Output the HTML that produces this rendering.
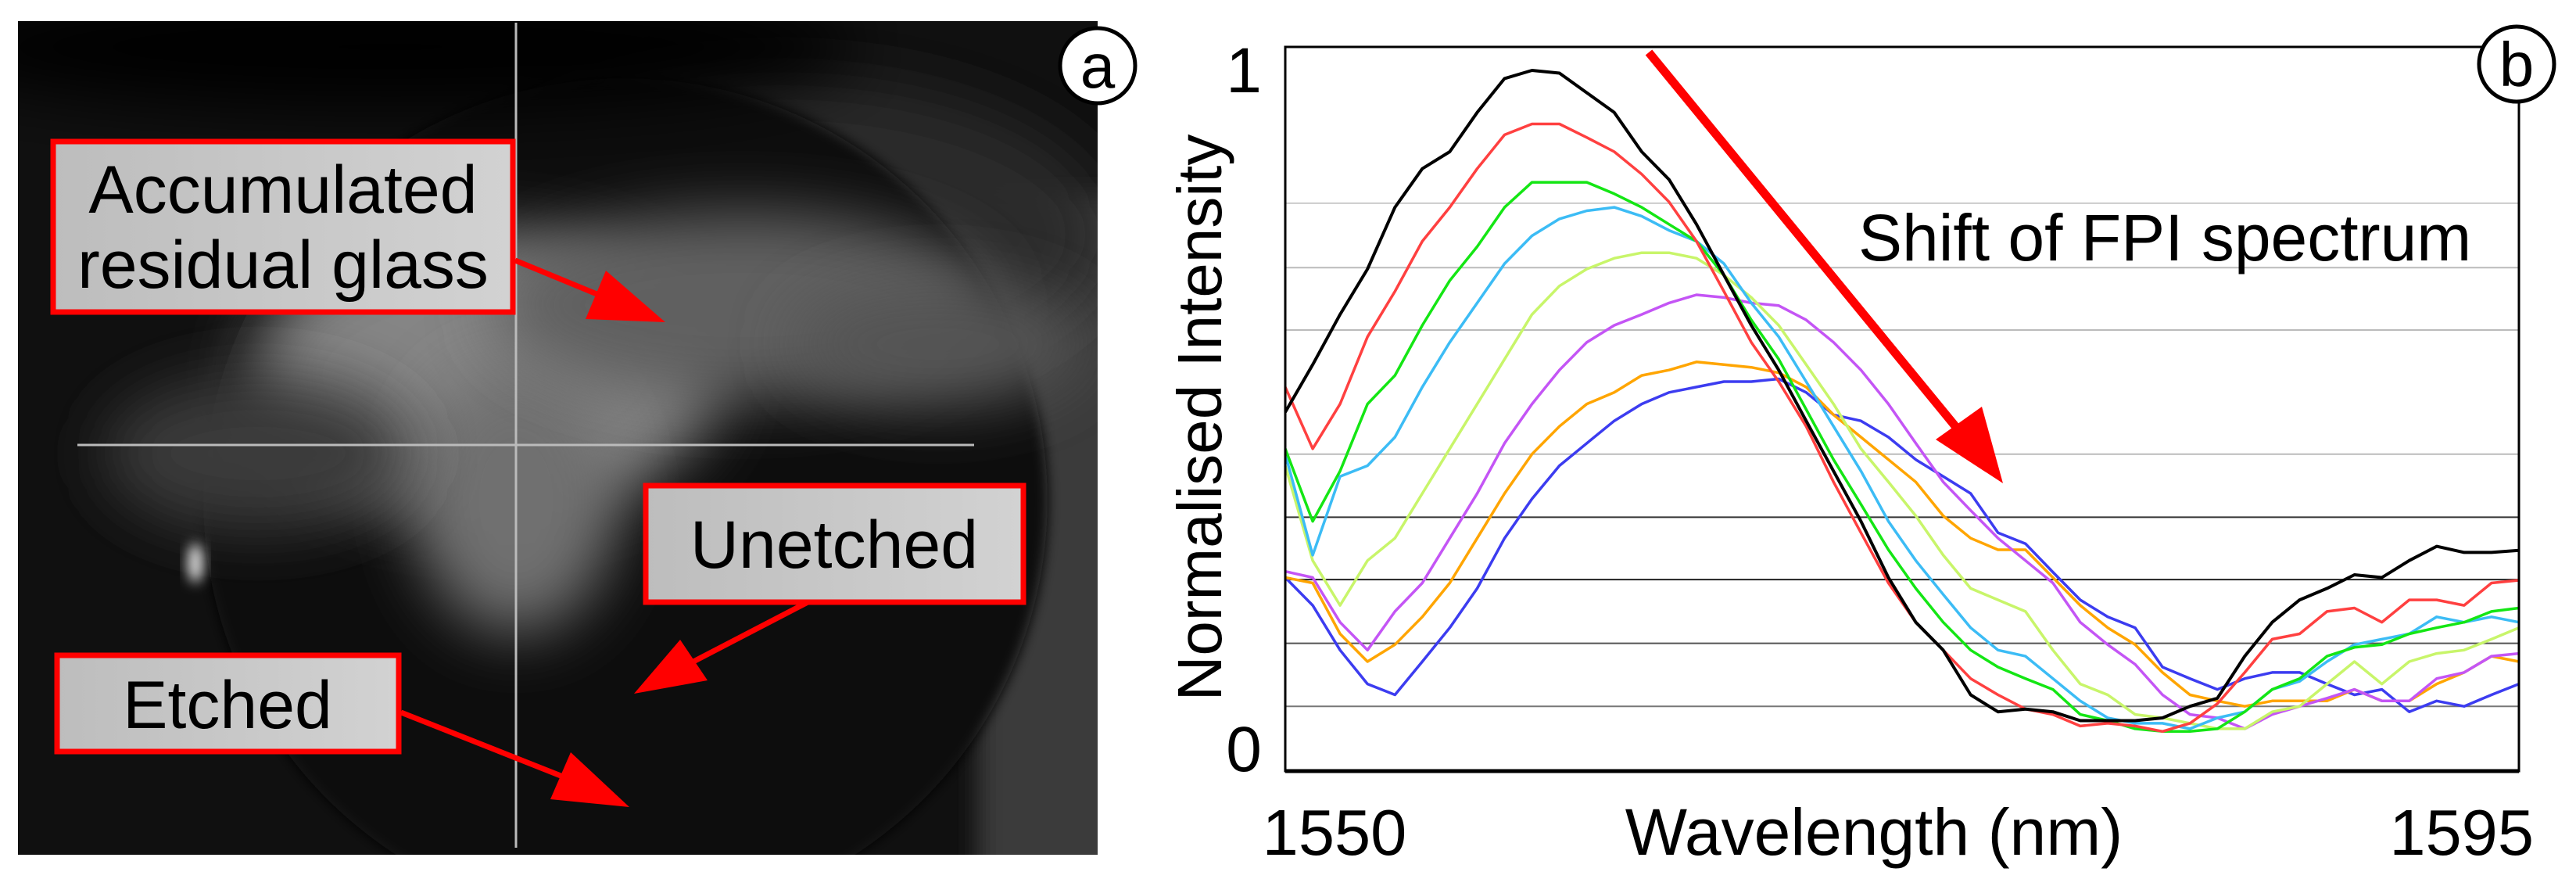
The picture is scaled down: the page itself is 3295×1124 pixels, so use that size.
<!DOCTYPE html>
<html><head><meta charset="utf-8"><style>
html,body{margin:0;padding:0;background:#fff;}
svg{display:block;font-family:"Liberation Sans",Arial,sans-serif;}
</style></head><body>
<svg id="fig" width="3295" height="1124" viewBox="0 0 3295 1124" xmlns="http://www.w3.org/2000/svg">
<defs>
<filter id="blur40" x="-50%" y="-50%" width="200%" height="200%"><feGaussianBlur stdDeviation="40"/></filter>
<filter id="blur15" x="-50%" y="-50%" width="200%" height="200%"><feGaussianBlur stdDeviation="15"/></filter>
<filter id="blur8" x="-50%" y="-50%" width="200%" height="200%"><feGaussianBlur stdDeviation="8"/></filter>
<clipPath id="imgclip"><rect x="23" y="27" width="1381" height="1066"/></clipPath>
<linearGradient id="boxfill" x1="0" y1="0" x2="1" y2="0"><stop offset="0" stop-color="#bdbdbd"/><stop offset="1" stop-color="#d2d2d2"/></linearGradient>
</defs>

<g clip-path="url(#imgclip)">
  <rect x="23" y="27" width="1381" height="1066" fill="#101010"/>
  <rect x="1250" y="250" width="200" height="900" fill="#3a3a3a" filter="url(#blur15)"/>
  <ellipse cx="1000" cy="300" rx="420" ry="200" fill="#2a2a2a" filter="url(#blur40)"/>
  <circle cx="800" cy="640" r="540" fill="#070707" filter="url(#blur8)"/>
  <ellipse cx="500" cy="60" rx="600" ry="80" fill="#040404" filter="url(#blur40)"/>
  <ellipse cx="620" cy="480" rx="300" ry="180" fill="#858585" filter="url(#blur40)"/>
  <ellipse cx="660" cy="640" rx="130" ry="170" fill="#707070" filter="url(#blur40)"/>
  <ellipse cx="950" cy="390" rx="320" ry="120" fill="#606060" filter="url(#blur40)"/>
  <ellipse cx="1200" cy="440" rx="190" ry="80" fill="#555" filter="url(#blur40)"/>
  <ellipse cx="330" cy="580" rx="200" ry="100" fill="#3a3a3a" filter="url(#blur40)"/>
  <ellipse cx="250" cy="720" rx="10" ry="25" fill="#ddd" filter="url(#blur8)"/>
  <line x1="660" y1="29" x2="660" y2="1084" stroke="#bbb" stroke-width="3"/>
  <line x1="99" y1="569" x2="1246" y2="569" stroke="#bbb" stroke-width="3"/>
</g>

<g fill="#f00" stroke="#f00">
  <line x1="659" y1="333" x2="790" y2="387" stroke-width="7"/>
  <polygon points="851,412 749,408 775,346" stroke="none"/>
  <line x1="1041" y1="766" x2="860" y2="860" stroke-width="7"/>
  <polygon points="811,887 870,818 905,870" stroke="none"/>
  <line x1="513" y1="911" x2="750" y2="1005" stroke-width="7"/>
  <polygon points="805,1032 704,1022 730,962" stroke="none"/>
</g>

<g>
  <rect x="68" y="181" width="588" height="218" fill="url(#boxfill)" stroke="#f00" stroke-width="7"/>
  <text x="362" y="272" font-size="86" text-anchor="middle">Accumulated</text>
  <text x="362" y="368" font-size="86" text-anchor="middle">residual glass</text>
</g>
<g>
  <rect x="826" y="621" width="483" height="149" fill="url(#boxfill)" stroke="#f00" stroke-width="7"/>
  <text x="1067" y="726" font-size="86" text-anchor="middle">Unetched</text>
</g>
<g>
  <rect x="73" y="838" width="437" height="123" fill="url(#boxfill)" stroke="#f00" stroke-width="7"/>
  <text x="291" y="931" font-size="86" text-anchor="middle">Etched</text>
</g>
<g>
  <circle cx="1404" cy="84" r="48" fill="#fff" stroke="#000" stroke-width="5"/>
  <text x="1404" y="112" font-size="80" text-anchor="middle">a</text>
</g>

<g id="chart">
  <rect x="1644" y="60" width="1578" height="926" fill="#fff" stroke="#000" stroke-width="3"/>
  <g id="grid"></g>
  <g id="series"></g>
  <rect x="1644" y="60" width="1578" height="926" fill="none" stroke="#000" stroke-width="3"/>
  <line x1="1644" y1="986" x2="3222" y2="986" stroke="#000" stroke-width="5"/>
  <text x="1591" y="118" font-size="82" text-anchor="middle">1</text>
  <text x="1591" y="986" font-size="82" text-anchor="middle">0</text>
  <text x="1707" y="1093" font-size="83" text-anchor="middle">1550</text>
  <text x="3241" y="1093" font-size="83" text-anchor="end">1595</text>
  <text x="2397" y="1093" font-size="84" text-anchor="middle">Wavelength (nm)</text>
  <text transform="translate(1562,534) rotate(-90)" font-size="80" text-anchor="middle">Normalised Intensity</text>
  <text x="2377" y="333" font-size="84">Shift of FPI spectrum</text>
  <g>
    <line x1="2109" y1="67" x2="2515" y2="562" stroke="#f00" stroke-width="11"/>
    <polygon points="2562,618 2476,562 2535,520" fill="#f00"/>
  </g>
  <g>
    <circle cx="3219" cy="82" r="48" fill="#fff" stroke="#000" stroke-width="5"/>
    <text x="3219" y="110" font-size="80" text-anchor="middle">b</text>
  </g>
</g>
</svg>
<script>
const wavelengths = [1550,1551,1552,1553,1554,1555,1556,1557,1558,1559,1560,1561,1562,1563,1564,1565,1566,1567,1568,1569,1570,1571,1572,1573,1574,1575,1576,1577,1578,1579,1580,1581,1582,1583,1584,1585,1586,1587,1588,1589,1590,1591,1592,1593,1594,1595];
const gridValues = [0.062,0.155,0.249,0.341,0.434,0.617,0.709,0.804];
const gridColors = ["#777","#555","#222","#333","#bbb","#bbb","#bbb","#ccc"];
const blueVals = [.252,.211,.145,.095,.079,.128,.178,.236,.310,.368,.417,.450,.483,.508,.525,.533,.541,.541,.545,.525,.492,.483,.459,.426,.401,.376,.318,.302,.260,.219,.194,.178,.120,.103,.087,.103,.112,.112,.095,.079,.087,.054,.070,.062,.079,.095];
const orangeVals = [.252,.244,.169,.128,.153,.194,.244,.310,.376,.434,.475,.508,.525,.550,.558,.570,.566,.562,.554,.533,.492,.459,.426,.393,.343,.310,.293,.293,.252,.211,.178,.153,.112,.079,.070,.062,.070,.070,.070,.087,.070,.070,.095,.112,.136,.128];
const purpleVals = [.261,.252,.186,.145,.202,.244,.310,.376,.450,.508,.558,.599,.624,.640,.657,.669,.665,.657,.653,.632,.599,.558,.508,.450,.393,.351,.310,.277,.244,.186,.153,.124,.079,.050,.045,.029,.050,.062,.074,.087,.070,.070,.103,.112,.136,.140];
const limeVals = [.417,.277,.211,.277,.310,.376,.442,.508,.574,.640,.682,.707,.723,.731,.731,.723,.698,.665,.624,.566,.508,.442,.393,.343,.285,.236,.219,.202,.145,.095,.079,.050,.045,.037,.029,.029,.054,.062,.095,.128,.095,.128,.140,.145,.161,.178];
const cyanVals = [.434,.285,.401,.417,.459,.533,.599,.657,.715,.756,.781,.793,.798,.785,.764,.748,.715,.657,.607,.541,.475,.409,.335,.277,.227,.178,.145,.136,.103,.070,.045,.037,.037,.029,.045,.054,.087,.099,.128,.153,.161,.169,.194,.186,.194,.186];
const greenVals = [.442,.335,.409,.508,.550,.624,.690,.740,.798,.835,.835,.835,.818,.798,.773,.748,.698,.632,.574,.500,.426,.360,.293,.236,.186,.145,.120,.103,.087,.050,.041,.029,.025,.025,.029,.054,.087,.103,.136,.149,.153,.169,.178,.186,.202,.207];
const redVals = [.533,.442,.508,.607,.674,.748,.798,.855,.905,.921,.921,.901,.880,.847,.806,.748,.674,.599,.541,.475,.393,.318,.244,.186,.145,.103,.079,.058,.050,.033,.037,.033,.025,.037,.066,.112,.161,.169,.202,.207,.186,.219,.219,.211,.244,.248];
const blackVals = [.496,.566,.640,.707,.798,.855,.880,.938,.988,1.0,.996,.967,.938,.880,.839,.773,.698,.624,.558,.483,.409,.335,.252,.186,.145,.079,.054,.058,.054,.041,.041,.041,.045,.062,.074,.136,.186,.219,.236,.256,.252,.277,.298,.289,.289,.292];
const seriesNames = ["blue","orange","purple","lime","cyan","green","red","black"];
const seriesColors = ["#3c3cf0","#ffa500","#c455f5","#c8f56a","#3cbcf5","#14e614","#ff4040","#000"];
const seriesData = [blueVals,orangeVals,purpleVals,limeVals,cyanVals,greenVals,redVals,blackVals];

const X0=1644, X1=3222, Y0=957, YH=867;
function xScale(w){return X0+(w-1550)/(1595-1550)*(X1-X0);}
function yScale(v){return Y0-v*YH;}
const NS="http://www.w3.org/2000/svg";
const grid=document.getElementById('grid');
gridValues.forEach((g,i)=>{
  const l=document.createElementNS(NS,'line');
  l.setAttribute('x1',X0);l.setAttribute('x2',X1);
  l.setAttribute('y1',yScale(g));l.setAttribute('y2',yScale(g));
  l.setAttribute('stroke',gridColors[i]);l.setAttribute('stroke-width',2);
  
  
  grid.appendChild(l);
});
const sg=document.getElementById('series');
seriesData.forEach((vals,i)=>{
  const p=document.createElementNS(NS,'polyline');
  p.setAttribute('points',vals.map((v,j)=>xScale(wavelengths[j]).toFixed(1)+','+yScale(v).toFixed(1)).join(' '));
  p.setAttribute('fill','none');p.setAttribute('stroke',seriesColors[i]);
  p.setAttribute('stroke-width',i===7?4:3.5);p.setAttribute('stroke-linejoin','round');
  
  
  sg.appendChild(p);
});
</script>
</body></html>
